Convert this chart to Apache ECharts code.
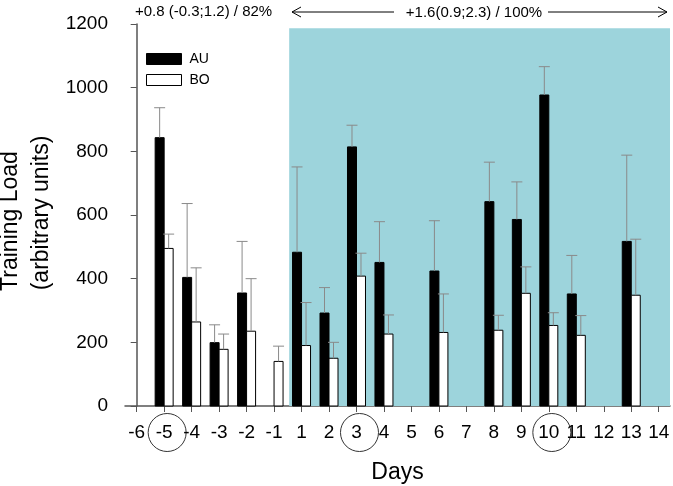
<!DOCTYPE html>
<html>
<head>
<meta charset="utf-8">
<script src="https://cdn.jsdelivr.net/npm/echarts@6/dist/echarts.min.js"></script>
<style>html,body{margin:0;padding:0;background:#fff}#c{width:673px;height:486px}</style>
</head>
<body>
<div id="c"></div>
<script>
const days = ['-6','-5','-4','-3','-2','-1','1','2','3','4','5','6','7','8','9','10','11','12','13','14'];
const circledDays = ['-5','3','10'];
const auMean = [null, 843, 404, 199, 355, null, 483, 292, 814, 451, null, 424, null, 642, 586, 977, 352, null, 517, null];
const boMean = [null, 495, 264, 178, 235, 140, 190, 150, 408, 226, null, 231, null, 238, 354, 253, 222, null, 348, null];
const auSd = [null, 94, 232, 56, 162, null, 268, 80, 68, 128, null, 158, null, 124, 118, 89, 121, null, 271, null];
const boSd = [null, 45, 170, 48, 165, 48, 135, 50, 72, 60, null, 121, null, 47, 83, 40, 62, null, 176, null];
const yTicks = [0, 200, 400, 600, 800, 1000, 1200];
const yTitle1 = 'Training Load';
const yTitle2 = '(arbitrary units)';
const preText = '+0.8 (-0.3;1.2) / 82%';
const postText = '+1.6(0.9;2.3) / 100%';

const FONT = 'Liberation Sans, Arial, Helvetica, sans-serif';
const X_MIN = -0.425, X_MAX = 19.41;
const SHADE_START = 5.55, SHADE_TOP = 1187;
const TEAL = '#9dd4dc';
const ERR = '#8a8a8a';
const BW = 9;

function triples(m, s){ const out=[]; m.forEach((v,i)=>{ if(v!=null) out.push([i, v, s[i]==null ? 0 : s[i]]); }); return out; }

function barRender(off, fill){
  return function(params, api){
    const i = api.value(0), m = api.value(1), s = api.value(2);
    const pTop = api.coord([i, m]);
    const pBase = api.coord([i, 0]);
    const pErr = api.coord([i, m + s]);
    const xc = pTop[0] + off;
    const children = [
      {type:'rect', shape:{x:xc - BW/2, y:pTop[1], width:BW, height:pBase[1]-pTop[1]},
        style:{fill:fill, stroke:'#000', lineWidth:1}}
    ];
    if (s > 0) {
      children.push({type:'line', shape:{x1:xc, y1:pTop[1], x2:xc, y2:pErr[1]}, style:{stroke:ERR, lineWidth:1}});
      children.push({type:'line', shape:{x1:xc-5.5, y1:pErr[1], x2:xc+5.5, y2:pErr[1]}, style:{stroke:ERR, lineWidth:1}});
    }
    return {type:'group', children:children};
  };
}

const chart = echarts.init(document.getElementById('c'), null, {renderer:'canvas'});
const option = {
  animation:false,
  textStyle:{fontFamily:FONT},
  grid:{left:125, right:3, top:24, bottom:80, containLabel:false, outerBoundsMode:'none'},
  legend:{
    data:[
      {name:'AU', itemStyle:{color:'#000', borderColor:'#000', borderWidth:1}},
      {name:'BO', itemStyle:{color:'#fff', borderColor:'#000', borderWidth:1}}
    ],
    orient:'vertical', left:141, top:47, padding:5, itemWidth:35, itemHeight:11, itemGap:7,
    icon:'rect', textStyle:{fontSize:14, lineHeight:11, color:'#000', fontFamily:FONT, padding:[0,0,0,3]}
  },
  xAxis:{
    type:'value', min:X_MIN, max:X_MAX,
    name:'Days', nameLocation:'middle', nameGap:55,
    nameTextStyle:{fontSize:23, color:'#000', fontFamily:FONT},
    splitLine:{show:false},
    axisLine:{show:true, onZero:false, lineStyle:{color:'#555', width:1.5}},
    axisTick:{show:true, length:6, customValues:days.map((d,i)=>i), lineStyle:{color:'#555', width:1}},
    axisLabel:{
      customValues:days.map((d,i)=>i), margin:17, hideOverlap:false, showMinLabel:true, showMaxLabel:true,
      fontSize:19, color:'#000', fontFamily:FONT,
      formatter:function(v){ return days[Math.round(v)]; }
    }
  },
  yAxis:{
    type:'value', min:0, max:1200, interval:200,
    splitLine:{show:false},
    axisLine:{show:true, lineStyle:{color:'#555', width:1.5}},
    axisTick:{show:true, length:6, lineStyle:{color:'#555', width:1}},
    axisLabel:{fontSize:19, color:'#000', margin:17, fontFamily:FONT,
      formatter:function(v){ return yTicks.indexOf(v)>=0 ? String(v) : ''; }}
  },
  series:[
    {name:'shade', type:'line', data:[], silent:true, symbol:'none',
      markArea:{silent:true, itemStyle:{color:TEAL, opacity:1},
        data:[[{coord:[SHADE_START, SHADE_TOP]},{coord:[X_MAX, 0]}]]}
    },
    {name:'AU', type:'custom', data:triples(auMean, auSd), renderItem:barRender(-BW/2, '#000'),
      itemStyle:{color:'#000'}, z:3, silent:true, encode:{x:0, y:1}},
    {name:'BO', type:'custom', data:triples(boMean, boSd), renderItem:barRender(BW/2, '#fff'),
      itemStyle:{color:'#fff', borderColor:'#000'}, z:3, silent:true, encode:{x:0, y:1}}
  ],
  graphic:[
    {type:'text', x:11, y:221, rotation:Math.PI/2, style:{text:yTitle1, fontSize:23, fill:'#000', fontFamily:FONT, align:'center', verticalAlign:'middle'}},
    {type:'text', x:42, y:213, rotation:Math.PI/2, style:{text:yTitle2, fontSize:23, fill:'#000', fontFamily:FONT, align:'center', verticalAlign:'middle'}},
    {type:'text', left:135, top:4, style:{text:preText, fontSize:15, fill:'#000', fontFamily:FONT}},
    {type:'text', x:474, y:13, style:{text:postText, fontSize:15, fill:'#000', fontFamily:FONT, align:'center', verticalAlign:'middle'}},
    {type:'line', shape:{x1:292, y1:12, x2:394, y2:12}, style:{stroke:'#000', lineWidth:1}},
    {type:'line', shape:{x1:548, y1:12, x2:667, y2:12}, style:{stroke:'#000', lineWidth:1}},
    {type:'polyline', shape:{points:[[301,7],[292,12],[301,17]]}, style:{stroke:'#000', lineWidth:1, fill:null}},
    {type:'polyline', shape:{points:[[658,7],[667,12],[658,17]]}, style:{stroke:'#000', lineWidth:1, fill:null}}
  ]
};
chart.setOption(option);

// circles around highlighted day labels, placed via the axis scale
const circles = circledDays.map(function(d){
  const px = chart.convertToPixel({xAxisIndex:0}, days.indexOf(d));
  return {type:'circle', shape:{cx:px + 3, cy:432.5, r:19}, style:{fill:null, stroke:'#333', lineWidth:1}, silent:true};
});
chart.setOption({graphic:option.graphic.concat(circles)});
</script>
</body>
</html>
